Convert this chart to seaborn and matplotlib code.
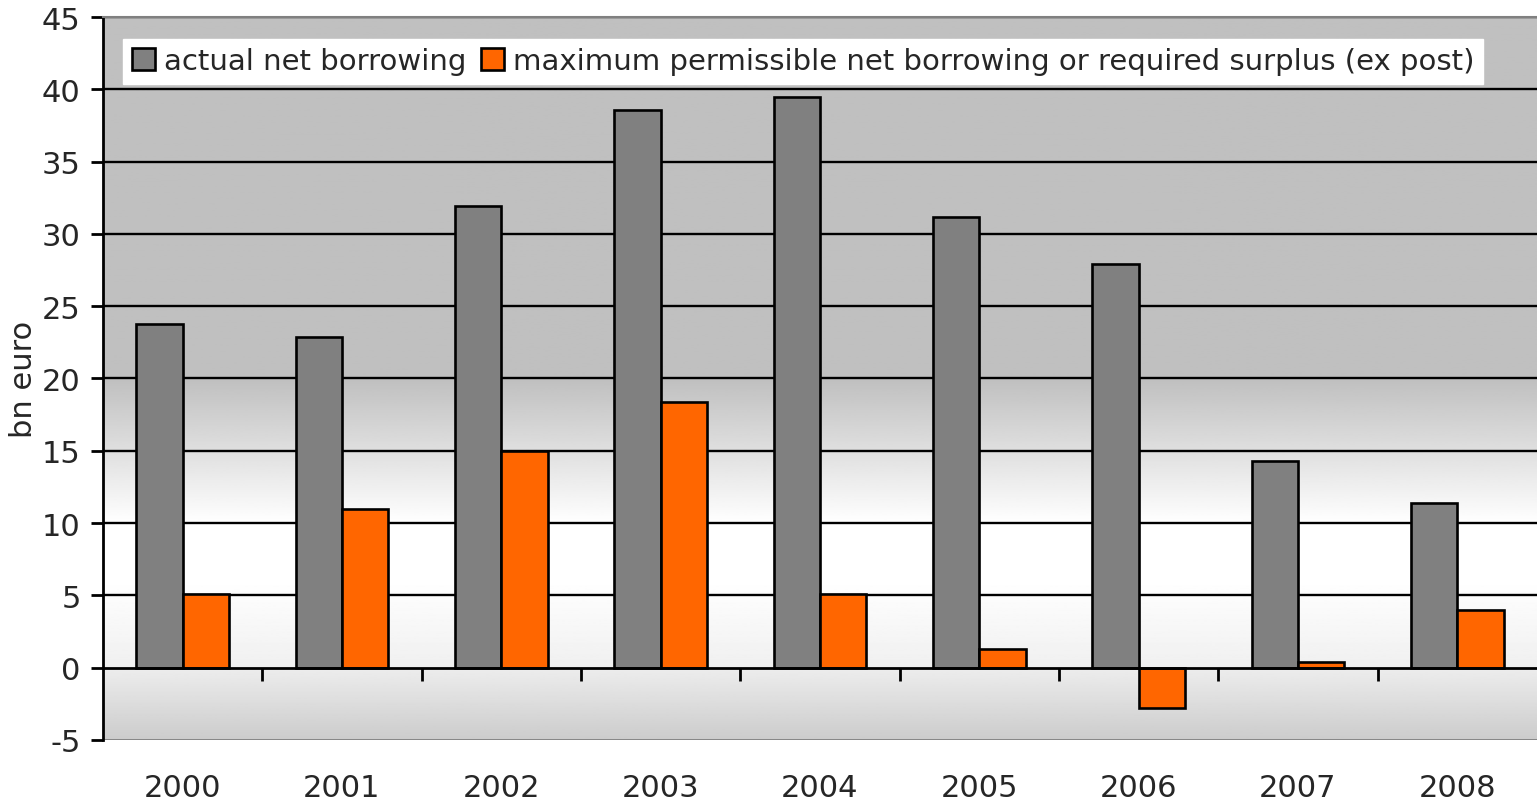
import numpy as np
import pandas as pd
import seaborn as sns
import matplotlib.pyplot as plt
from matplotlib.ticker import FixedLocator

sns.set_theme(style="white")
plt.rcParams['font.family'] = ['DejaVu Sans']
plt.rcParams['axes.unicode_minus'] = False

years = ['2000', '2001', '2002', '2003', '2004', '2005', '2006', '2007', '2008']
actual = [23.8, 22.9, 31.9, 38.6, 39.5, 31.2, 27.9, 14.3, 11.4]
maximum = [5.1, 11.0, 15.0, 18.4, 5.1, 1.3, -2.8, 0.4, 4.0]
series = ['actual net borrowing',
          'maximum permissible net borrowing or required surplus (ex post)']

df = pd.DataFrame({
    'year': years * 2,
    'value': actual + maximum,
    'series': [series[0]] * len(years) + [series[1]] * len(years),
})

fig = plt.figure(figsize=(15.37, 8.04), dpi=100)
ax = fig.add_axes([0.067, 0.0784, 0.933, 0.8992])

ymin, ymax = -5, 45
ax.set_xlim(-0.5, len(years) - 0.5)
ax.set_ylim(ymin, ymax)

# background gradient: grey on top, white in the middle, grey again below zero
yy = np.linspace(ymax, ymin, 600)
shade = np.interp(yy, [-5, 0, 0.001, 6, 10, 20, 45],
                  [0.80, 0.93, 0.94, 1.0, 1.0, 0.75, 0.75])
ax.imshow(np.repeat(shade[:, None], 2, axis=1), cmap='gray', vmin=0, vmax=1,
          extent=[-0.5, len(years) - 0.5, ymin, ymax], aspect='auto', zorder=0)

sns.barplot(data=df, x='year', y='value', hue='series',
            palette=['#808080', '#FF6600'], width=0.58, gap=0,
            edgecolor='black', linewidth=1.9, saturation=1, ax=ax, zorder=3)

ax.set_xlim(-0.5, len(years) - 0.5)
ax.set_ylim(ymin, ymax)
ax.set_yticks(range(-5, 46, 5))
for v in range(5, 46, 5):
    ax.axhline(v, color='black', lw=1.7, zorder=1)
ax.axhline(ymin, color='#808080', lw=2, zorder=1)

ax.spines['bottom'].set_position(('data', 0))
ax.spines['bottom'].set_linewidth(2)
ax.spines['bottom'].set_zorder(4)
ax.spines['bottom'].set_color('black')
ax.spines['left'].set_color('black')
ax.spines['left'].set_linewidth(2)
ax.spines['top'].set_color('#808080')
ax.spines['top'].set_linewidth(1.5)
ax.spines['right'].set_visible(False)

ax.xaxis.set_minor_locator(FixedLocator(np.arange(0.5, len(years) - 1, 1)))
ax.tick_params(axis='x', which='major', length=0, pad=76, labelsize=22)
ax.tick_params(axis='x', which='minor', bottom=True, direction='out',
               length=9, width=2, color='black')
ax.tick_params(axis='y', left=True, direction='out', length=9, width=2,
               color='black', labelsize=22, pad=7)

ax.set_xlabel('')
ax.set_ylabel('bn euro', fontsize=22)
ax.yaxis.set_label_coords(-0.045, 0.5)

leg = ax.legend(loc='upper left', bbox_to_anchor=(0.014, 0.97), ncol=2,
                fontsize=21, frameon=True, fancybox=False, framealpha=1,
                edgecolor='white', facecolor='white', handlelength=0.8,
                handleheight=0.8, handletextpad=0.3, columnspacing=0.5,
                borderpad=0.3, borderaxespad=0)
leg.set_zorder(5)

fig.savefig('out.png', dpi=100)
